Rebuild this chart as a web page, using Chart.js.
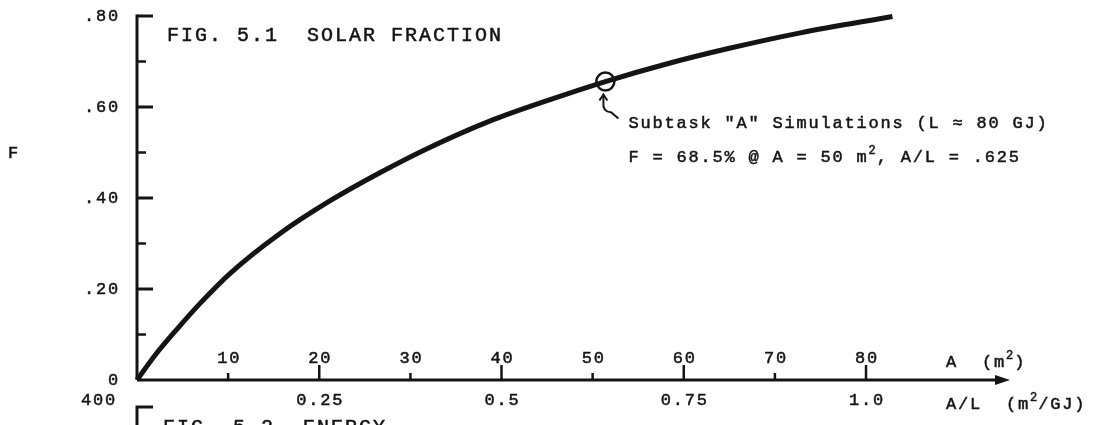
<!DOCTYPE html>
<html>
<head>
<meta charset="utf-8">
<script src="https://cdn.jsdelivr.net/npm/chart.js@4.4.1/dist/chart.umd.min.js"></script>
<style>
  html, body { margin: 0; background: #fff; }
  #wrap { width: 1110px; height: 425px; position: relative; }
</style>
</head>
<body>
<div id="wrap"><canvas id="fig51"></canvas></div>
<script>
// Fig. 5.1 - solar fraction F against collector area A (load L ~ 80 GJ)

const areaA = [0, 2, 4.4, 7, 10.2, 15.7, 21.2, 26.7, 32, 38.7, 45, 51.4, 58, 65, 72.8, 82.9];
const fracF = [0, 0.055, 0.112, 0.17, 0.234, 0.322, 0.394, 0.456, 0.51, 0.569, 0.614, 0.656, 0.694, 0.729, 0.763, 0.799];

// subtask "A" simulation point (circled)
const simA = [51.4];
const simF = [0.656];

const loadL = 80;     // GJ, converts A to A/L
const xMax = 95.8;    // where the axis arrow ends

const yTickVals = [0.8, 0.6, 0.4, 0.2, 0];
const yTickLabels = ['.80', '.60', '.40', '.20', '0'];
const yMinorVals = [0.7, 0.5, 0.3, 0.1];

const aTickVals = [10, 20, 30, 40, 50, 60, 70, 80];
const aMajorVals = [20, 40, 60, 80];
const alTickVals = [0.25, 0.5, 0.75, 1.0];
const alTickLabels = ['0.25', '0.5', '0.75', '1.0'];

const titleText = 'FIG. 5.1  SOLAR FRACTION';
const noteLine1 = [['Subtask "A" Simulations (L \u2248 80 GJ)', 0]];
const noteLine2 = [['F = 68.5% @ A = 50 m', 0], ['2', 1], [', A/L = .625', 0]];
const aAxisName = [['A  (m', 0], ['2', 1], [')', 0]];
const alAxisName = [['A/L  (m', 0], ['2', 1], ['/GJ)', 0]];
// top of the next figure on the page, cut off by the frame
const nextFigLabel = '400';
const nextFigTitle = 'FIG. 5.2  ENERGY';

const ink = '#141414';
const mono = '"Liberation Mono", "DejaVu Sans Mono", monospace';

function setFont(ctx, size, sp) {
    ctx.font = size + 'px ' + mono;
    ctx.letterSpacing = sp + 'px';
}

// typed text looks heavier in the scan, so add a thin outline
function typed(ctx, s, x, y) {
    ctx.fillText(s, x, y);
    ctx.strokeText(s, x, y);
}

// draws text pieces, flag 1 = superscript
function drawParts(ctx, parts, x, y, size, sp) {
    let cx = x;
    parts.forEach(([s, sup]) => {
        const sz = sup ? Math.round(size * 0.72) : size;
        setFont(ctx, sz, sup ? 1 : sp);
        typed(ctx, s, cx, sup ? y - size * 0.38 : y);
        cx += ctx.measureText(s).width;
    });
}

function seg(ctx, x1, y1, x2, y2) {
    ctx.beginPath(); ctx.moveTo(x1, y1); ctx.lineTo(x2, y2); ctx.stroke();
}

const figPlugin = {
    id: 'figPlugin',
    afterDraw(chart) {
        const { ctx, chartArea: ca, scales: { x, y, al } } = chart;
        const x0 = x.getPixelForValue(0), y0 = y.getPixelForValue(0);
        const yTop = y.getPixelForValue(0.8);
        ctx.save();
        ctx.strokeStyle = ink; ctx.fillStyle = ink;
        ctx.lineCap = 'butt';
        ctx.textBaseline = 'middle';

        // vertical axis + inward ticks
        ctx.lineWidth = 3;
        seg(ctx, x0, yTop - 1.5, x0, y0);
        yTickVals.forEach(v => {
            const py = y.getPixelForValue(v);
            if (v > 0) seg(ctx, x0, py, x0 + 16, py);
        });
        ctx.lineWidth = 2.5;
        yMinorVals.forEach(v => {
            const py = y.getPixelForValue(v);
            seg(ctx, x0, py, x0 + 9, py);
        });

        // horizontal axis with arrow
        ctx.lineWidth = 3;
        seg(ctx, x0, y0, ca.right - 12, y0);
        ctx.beginPath();
        ctx.moveTo(ca.right, y0);
        ctx.lineTo(ca.right - 15, y0 - 5);
        ctx.lineTo(ca.right - 15, y0 + 5);
        ctx.closePath(); ctx.fill();
        ctx.lineWidth = 2.5;
        aTickVals.forEach(v => {
            const px = x.getPixelForValue(v);
            seg(ctx, px, y0, px, y0 - (aMajorVals.includes(v) ? 15 : 7));
        });

        // labels
        ctx.lineWidth = 0.5;
        setFont(ctx, 17, 1.8);
        yTickVals.forEach((v, i) => {
            const w = ctx.measureText(yTickLabels[i]).width;
            typed(ctx, yTickLabels[i], x0 - 17 - w, y.getPixelForValue(v));
        });
        setFont(ctx, 17, 0);
        typed(ctx, 'F', 8, 153);

        setFont(ctx, 17, 1.8);
        ctx.textAlign = 'center';
        aTickVals.forEach(v => {
            typed(ctx, String(v), x.getPixelForValue(v) + 1, y0 - 22);
        });
        alTickVals.forEach((v, i) => {
            typed(ctx, alTickLabels[i], al.getPixelForValue(v) + 1, y0 + 20);
        });
        ctx.textAlign = 'left';
        drawParts(ctx, aAxisName, ca.right - 64, y0 - 18, 17, 1.8);
        drawParts(ctx, alAxisName, ca.right - 64, y0 + 24, 17, 1.8);

        // title
        setFont(ctx, 20, 2);
        typed(ctx, titleText, x0 + 30, yTop + 20);

        // note for the circled point
        const cx = x.getPixelForValue(simA[0]), cy = y.getPixelForValue(simF[0]);
        ctx.lineWidth = 2;
        ctx.beginPath();
        ctx.moveTo(cx + 13, cy + 37);
        ctx.lineTo(cx + 6, cy + 31);
        ctx.quadraticCurveTo(cx - 3, cy + 30, cx - 2, cy + 21);
        ctx.lineTo(cx - 2, cy + 14);
        ctx.stroke();
        ctx.beginPath();
        ctx.moveTo(cx - 6, cy + 19); ctx.lineTo(cx - 2, cy + 13); ctx.lineTo(cx + 2, cy + 19);
        ctx.stroke();
        ctx.lineWidth = 0.5;
        drawParts(ctx, noteLine1, cx + 23, cy + 42, 17, 1.8);
        drawParts(ctx, noteLine2, cx + 23, cy + 76, 17, 1.8);

        // start of fig. 5.2 below
        setFont(ctx, 17, 1.8);
        const w4 = ctx.measureText(nextFigLabel).width;
        typed(ctx, nextFigLabel, x0 - 20 - w4, y0 + 20);
        ctx.lineWidth = 3;
        ctx.beginPath();
        ctx.moveTo(x0 + 16, y0 + 27); ctx.lineTo(x0, y0 + 27); ctx.lineTo(x0, y0 + 60);
        ctx.stroke();
        ctx.lineWidth = 0.5;
        setFont(ctx, 20, 2);
        typed(ctx, nextFigTitle, x0 + 26, y0 + 48);
        ctx.restore();
    }
};

new Chart(document.getElementById('fig51'), {
    type: 'line',
    data: {
        datasets: [
            {
                label: 'F',
                data: areaA.map((a, i) => ({ x: a, y: fracF[i] })),
                borderColor: ink,
                borderWidth: 5,
                pointRadius: 0,
                cubicInterpolationMode: 'monotone',
                fill: false,
                clip: false
            },
            {
                label: 'Subtask A',
                type: 'scatter',
                data: simA.map((a, i) => ({ x: a, y: simF[i] })),
                pointRadius: 9,
                pointBorderWidth: 2.5,
                pointBorderColor: ink,
                pointBackgroundColor: 'rgba(0,0,0,0)',
                clip: false
            }
        ]
    },
    options: {
        responsive: true,
        maintainAspectRatio: false,
        animation: false,
        layout: { padding: { left: 137, right: 100, top: 16, bottom: 45 } },
        plugins: { legend: { display: false }, tooltip: { enabled: false } },
        scales: {
            x: { type: 'linear', min: 0, max: xMax, display: false },
            al: { type: 'linear', axis: 'x', position: 'bottom', min: 0, max: xMax / loadL, display: false },
            y: { type: 'linear', min: 0, max: 0.8, display: false }
        }
    },
    plugins: [figPlugin]
});
</script>
</body>
</html>
